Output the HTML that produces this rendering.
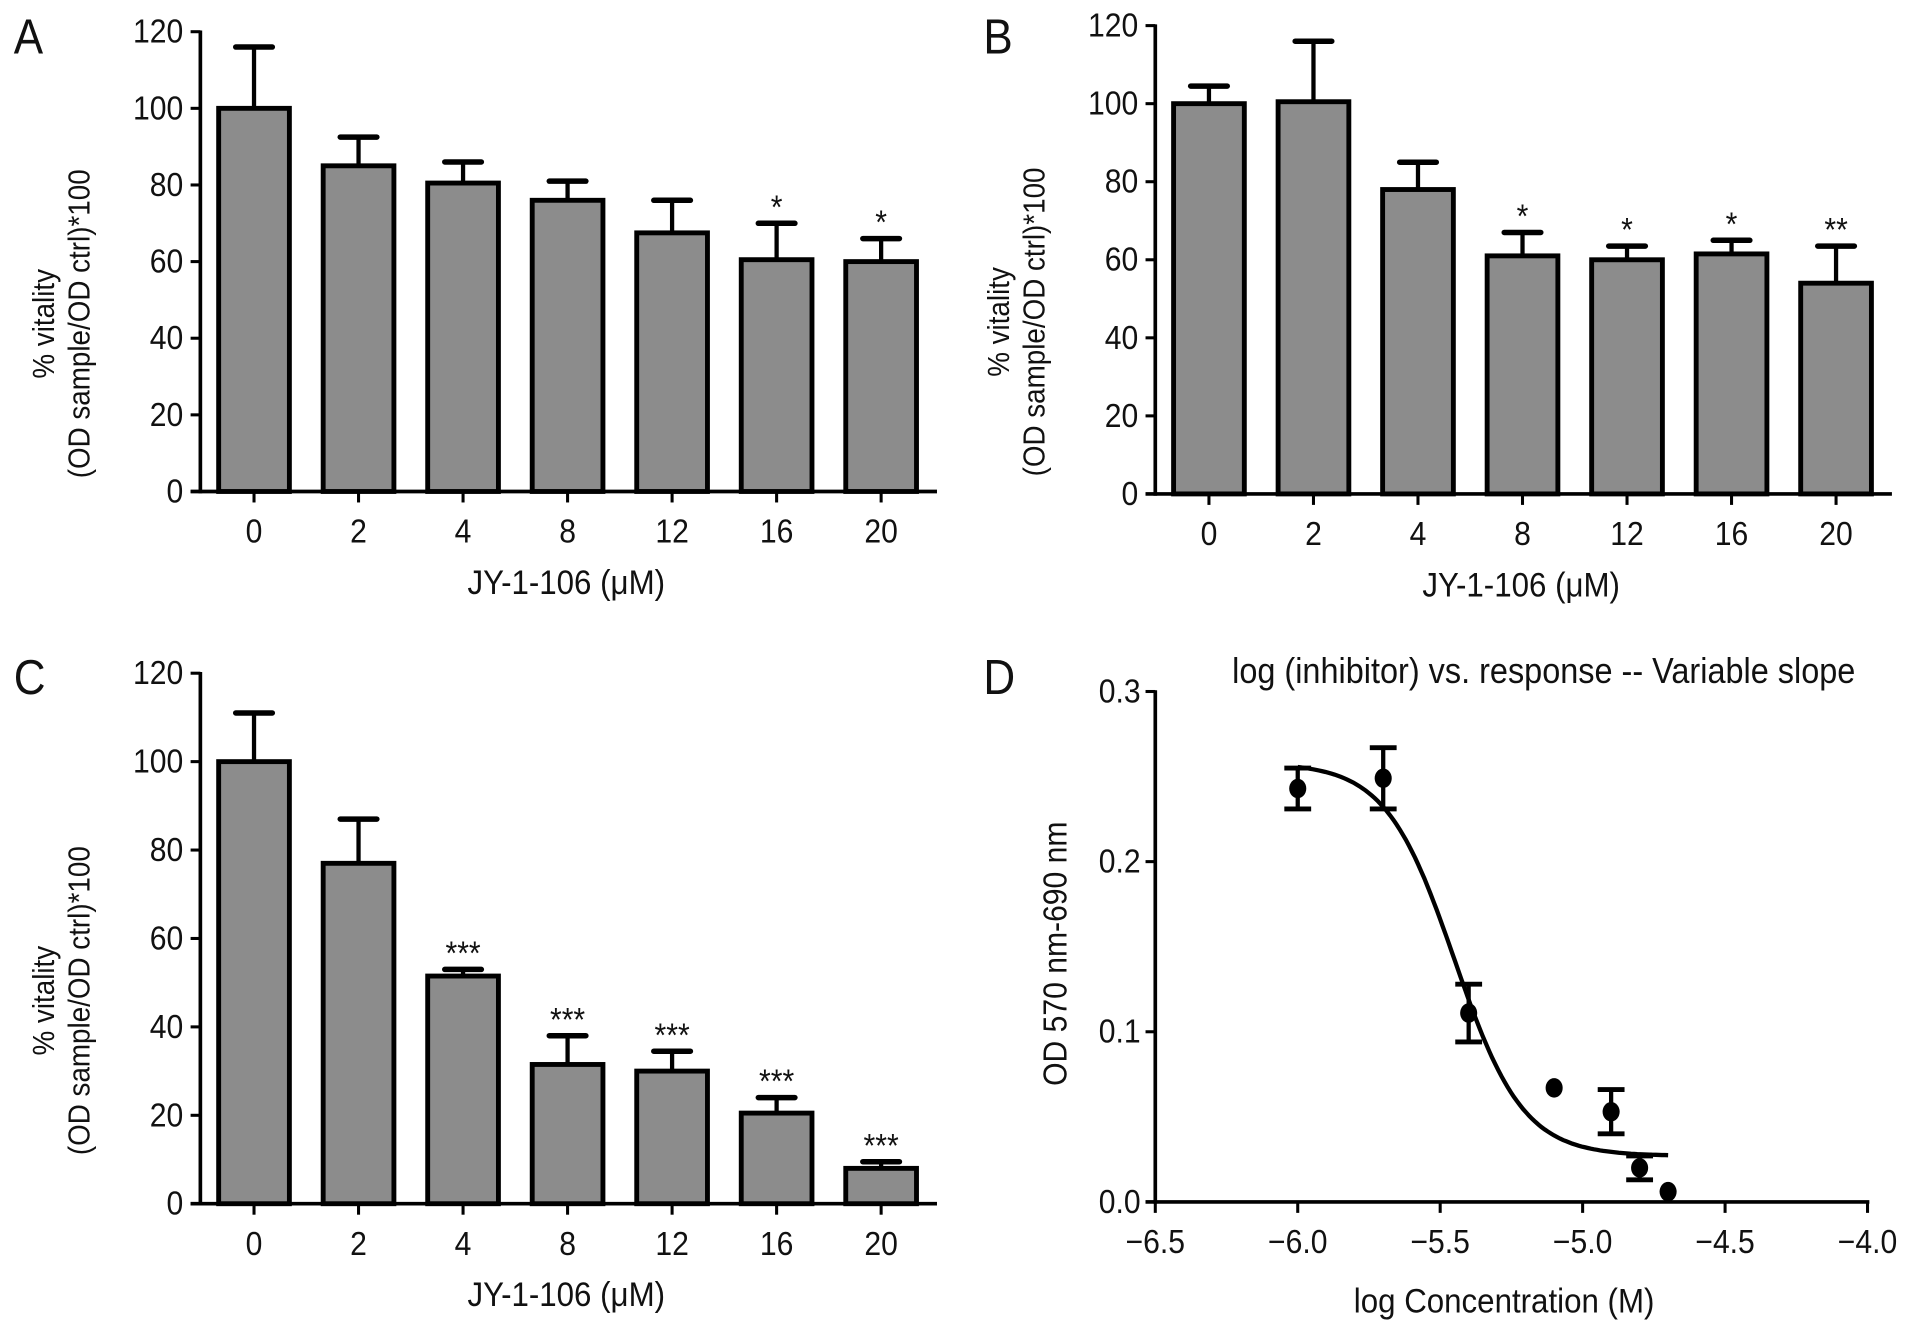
<!DOCTYPE html>
<html><head><meta charset="utf-8"><style>
html,body{margin:0;padding:0;background:#fff;}
svg{display:block;font-family:"Liberation Sans",sans-serif;}
</style></head><body>
<svg id="fig" width="1913" height="1333" viewBox="0 0 1568 1093" xmlns="http://www.w3.org/2000/svg"></svg>
<script>
// ---- data ----
const barCategories = ["0","2","4","8","12","16","20"];
const aValues = [100, 85, 80.5, 76, 67.5, 60.5, 60];
const aErrors = [16, 7.5, 5.5, 5, 8.5, 9.5, 6];
const aStars = ["", "", "", "", "", "*", "*"];
const bValues = [100, 100.5, 78, 61, 60, 61.5, 54];
const bErrors = [4.5, 15.5, 7, 6, 3.5, 3.5, 9.5];
const bStars = ["", "", "", "*", "*", "*", "**"];
const cValues = [100, 77, 51.5, 31.5, 30, 20.5, 8];
const cErrors = [11, 10, 1.5, 6.5, 4.5, 3.5, 1.5];
const cStars = ["", "", "***", "***", "***", "***", "***"];
const barYTicks = [0, 20, 40, 60, 80, 100, 120];
const dX = [-6.0, -5.7, -5.4, -5.1, -4.9, -4.8, -4.7];
const dY = [0.243, 0.249, 0.111, 0.067, 0.053, 0.020, 0.006];
const dErr = [0.012, 0.018, 0.017, 0, 0.013, 0.007, 0];
const dFit = [0.258, 0.027, -5.45, 3.6]; // top, bottom, logIC50, hill
const dXTicks = [-6.5, -6.0, -5.5, -5.0, -4.5, -4.0];
const dYTicks = [0.0, 0.1, 0.2, 0.3];

const svg = document.getElementById('fig');
const NS = "http://www.w3.org/2000/svg";
function mk(tag, attrs, parent) {
  const e = document.createElementNS(NS, tag);
  for (const k in attrs) e.setAttribute(k, attrs[k]);
  (parent || svg).appendChild(e);
  return e;
}
function txt(str, x, y, size, anchor, parent, rot) {
  const g = mk('g', {transform: `translate(${x},${y})` + (rot ? ` rotate(${rot})` : '')}, parent);
  const t = mk('text', {x: 0, y: 0, 'font-size': size, 'text-anchor': anchor || 'middle', transform: 'scale(0.95,1.05)', fill: '#111'}, g);
  t.textContent = str;
  return t;
}

function barPanel(name, letter, lx, ly, ox, y0, ymaxPix, vals, errs, stars) {
  const g = mk('g', {});
  
  
  const yS = v => y0 - v * (y0 - ymaxPix) / 120;
  const xS = i => ox + 44 + i * 85.7;
  const L = txt(letter, lx, ly, 38, 'start', g);
  
  
  vals.forEach((v, i) => {
    const cx = xS(i), top = yS(v), et = yS(v + errs[i]);
    const eb = mk('line', {x1: cx, x2: cx, y1: top, y2: et, stroke: '#000', 'stroke-width': 3.5}, g);
    
    
    mk('line', {x1: cx - 15, x2: cx + 15, y1: et, y2: et, stroke: '#000', 'stroke-width': 4.5, 'stroke-linecap': 'round'}, g);
    const r = mk('rect', {x: cx - 29, y: top, width: 58, height: y0 - top, fill: '#8c8c8c', stroke: '#000', 'stroke-width': 4}, g);
    
    
    if (stars[i]) {
      const s = txt(stars[i], cx, et - 4, 26, 'middle', g);
      
      
    }
    mk('line', {x1: cx, x2: cx, y1: y0, y2: y0 + 9, stroke: '#000', 'stroke-width': 2.5}, g);
    const tl = txt(barCategories[i], cx, y0 + 42, 26, 'middle', g);
    
    
  });
  const ya = mk('line', {x1: ox, x2: ox, y1: ymaxPix - 1, y2: y0 + 1.5, stroke: '#000', 'stroke-width': 3}, g);
  
  
  const xa = mk('line', {x1: ox - 8, x2: ox + 604, y1: y0, y2: y0, stroke: '#000', 'stroke-width': 3}, g);
  
  
  barYTicks.forEach(t => {
    const y = yS(t);
    mk('line', {x1: ox - 8, x2: ox, y1: y, y2: y, stroke: '#000', 'stroke-width': 2.5}, g);
    const l = txt(String(t), ox - 14, y + 9, 26, 'end', g);
    
    
  });
  const xt = txt('JY-1-106 (\u03bcM)', ox + 300, y0 + 84, 27, 'middle', g);
  
  
  const ymid = (y0 + ymaxPix) / 2 + 51;
  const yt1 = txt('% vitality', ox - 120, ymid, 24, 'middle', g, -90);
  
  
  const yt2 = txt('(OD sample/OD ctrl)*100', ox - 91, ymid, 24, 'middle', g, -90);
  
  
}
barPanel('a', 'A', 11, 44, 164, 403, 26, aValues, aErrors, aStars);
barPanel('b', 'B', 806, 44, 947, 405, 21, bValues, bErrors, bStars);
barPanel('c', 'C', 11, 569, 164, 987, 552, cValues, cErrors, cStars);

// ---- panel D ----
(function(){
  const g = mk('g', {});
  
  
  const ox = 947, oy = 985.5;
  const xS = v => ox + (v + 6.5) * 233.6;
  const yS = v => oy - v * 1395;
  const L = txt('D', 806, 569, 38, 'start', g);
  
  
  const tt = txt('log (inhibitor) vs. response -- Variable slope', 1010, 560, 28, 'start', g);
  
  
  const ya = mk('line', {x1: ox, x2: ox, y1: yS(0.3) - 1, y2: oy + 1.5, stroke: '#000', 'stroke-width': 3}, g);
  
  
  const xa = mk('line', {x1: ox - 8, x2: xS(-4.0) + 1.5, y1: oy, y2: oy, stroke: '#000', 'stroke-width': 3}, g);
  
  
  dYTicks.forEach(t => {
    const y = yS(t);
    mk('line', {x1: ox - 8, x2: ox, y1: y, y2: y, stroke: '#000', 'stroke-width': 2.5}, g);
    const l = txt(t.toFixed(1), ox - 12, y + 9, 26, 'end', g);
    
    
  });
  dXTicks.forEach(t => {
    const x = xS(t);
    mk('line', {x1: x, x2: x, y1: oy, y2: oy + 9, stroke: '#000', 'stroke-width': 2.5}, g);
    const l = txt('\u2212' + Math.abs(t).toFixed(1), x, oy + 42, 26, 'middle', g);
    
    
  });
  const xt = txt('log Concentration (M)', 1233, 1076, 27, 'middle', g);
  
  
  const yt = txt('OD 570 nm-690 nm', 874, 782, 26, 'middle', g, -90);
  
  
  const [top, bot, ic, h] = dFit;
  let d = '';
  const x0 = dX[0], x1 = dX[dX.length - 1];
  for (let k = 0; k <= 120; k++) {
    const x = x0 + (x1 - x0) * k / 120;
    const y = bot + (top - bot) / (1 + Math.pow(10, (x - ic) * h));
    d += (k ? 'L' : 'M') + xS(x).toFixed(1) + ',' + yS(y).toFixed(1);
  }
  const c = mk('path', {d: d, fill: 'none', stroke: '#000', 'stroke-width': 3.5}, g);
  
  
  dX.forEach((x, i) => {
    const cx = xS(x), cy = yS(dY[i]);
    if (dErr[i] > 0) {
      const e1 = yS(dY[i] + dErr[i]), e2 = yS(dY[i] - dErr[i]);
      const eb = mk('line', {x1: cx, x2: cx, y1: e1, y2: e2, stroke: '#000', 'stroke-width': 3.5}, g);
      
      
      mk('line', {x1: cx - 11, x2: cx + 11, y1: e1, y2: e1, stroke: '#000', 'stroke-width': 4}, g);
      mk('line', {x1: cx - 11, x2: cx + 11, y1: e2, y2: e2, stroke: '#000', 'stroke-width': 4}, g);
    }
    const p = mk('ellipse', {cx: cx, cy: cy, rx: 7, ry: 8, fill: '#000'}, g);
    
    
  });
})();
</script>
</body></html>
